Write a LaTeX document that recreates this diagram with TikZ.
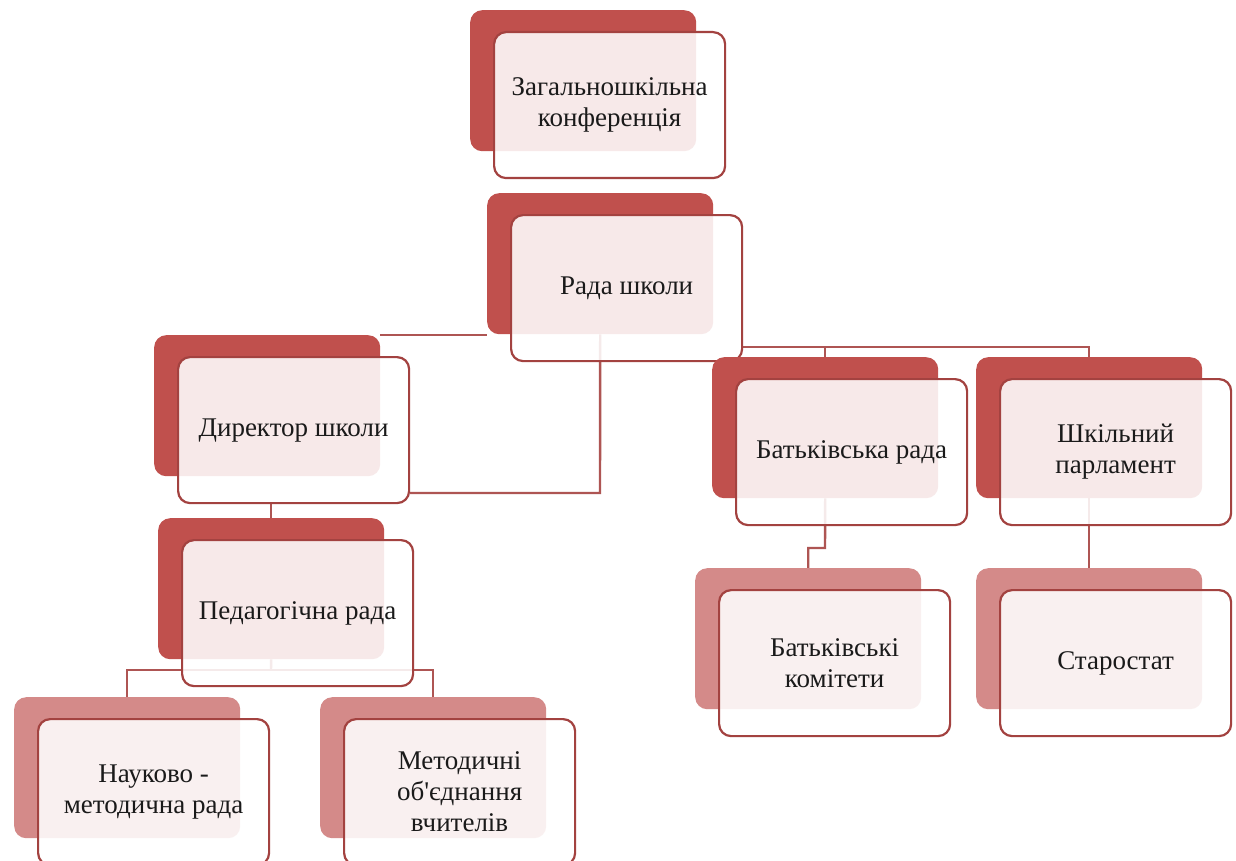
\documentclass[tikz,border=0pt]{standalone}
\usepackage{fontspec}
\setmainfont{Liberation Serif}[Ligatures=TeXOff]
\definecolor{backred}{HTML}{C0504D}
\definecolor{backpale}{HTML}{D48A89}
\definecolor{edgered}{HTML}{A34240}
\definecolor{linkred}{HTML}{AE5553}
\definecolor{ink}{HTML}{1A1A1A}
\pgfdeclarelayer{paper}
\pgfdeclarelayer{links}
\pgfsetlayers{paper,links,main}
\tikzset{
  backbox/.style={draw=none, fill=#1, rounded corners=12pt, anchor=north west,
    inner sep=0pt, minimum width=226pt, minimum height=141pt},
  frontbox/.style={draw=edgered, line width=2.2pt, fill=white, fill opacity=0.88,
    text opacity=1, rounded corners=12pt, anchor=north west, inner sep=0pt,
    minimum width=231pt, minimum height=146pt, align=center, text=ink,
    font=\fontsize{27}{31}\selectfont},
  link/.style={draw=linkred, line width=2.4pt},
}
% one unit of the chart: coloured back plate and the framed card with its label
\newcommand\orgunit[5]{%
  \node[backbox=#2] (b#1) at (#3,#4) {};
  \node[frontbox] (f#1) at ({#3+23},{#4+21}) {#5};
}
\begin{document}
\begin{tikzpicture}[x=1pt,y=-1pt]
\useasboundingbox (0,0) rectangle (1236,861);
\begin{pgfonlayer}{paper}
\fill[white] (0,0) rectangle (1236,861);
\end{pgfonlayer}

\orgunit{1}{backred}{470}{10}{Загальношкільна\\конференція}
\orgunit{2}{backred}{487}{193}{Рада школи}
\orgunit{3}{backred}{154}{335}{Директор школи}
\orgunit{4}{backred}{158}{518}{Педагогічна рада}
\orgunit{5}{backpale}{14}{697}{Науково -\\методична рада}
\orgunit{6}{backpale}{320}{697}{Методичні\\об'єднання\\вчителів}
\orgunit{7}{backred}{712}{357}{Батьківська рада}
\orgunit{8}{backred}{976}{357}{Шкільний\\парламент}
\orgunit{9}{backpale}{695}{568}{Батьківські\\комітети}
\orgunit{10}{backpale}{976}{568}{Старостат}

% junction points of the connectors
\coordinate (jdir) at (600,493);
\coordinate (jright) at (741,347);
\coordinate (jped) at (271,670);
\coordinate (jpar) at (825,548);

% connectors, kept under the cards
\begin{pgfonlayer}{links}
\path[link] (b2.south) -- (jdir) -- (jdir -| f3.east);
\path[link] (b3.north east) -- (b3.north east -| b2.west);
\path[link] (jright) -- (jright -| b8.north) -- (b8.north);
\path[link] (jright -| b7.north) -- (b7.north);
\path[link] (b4.north) -- (b4.north |- f3.south);
\path[link] (b4.south) -- (jped);
\path[link] (b5.north) |- (jped) -| (b6.north);
\path[link] (b7.south) -- (jpar) -| (b9.north);
\path[link] (b8.south) -- (b10.north);
\end{pgfonlayer}
\end{tikzpicture}
\end{document}
